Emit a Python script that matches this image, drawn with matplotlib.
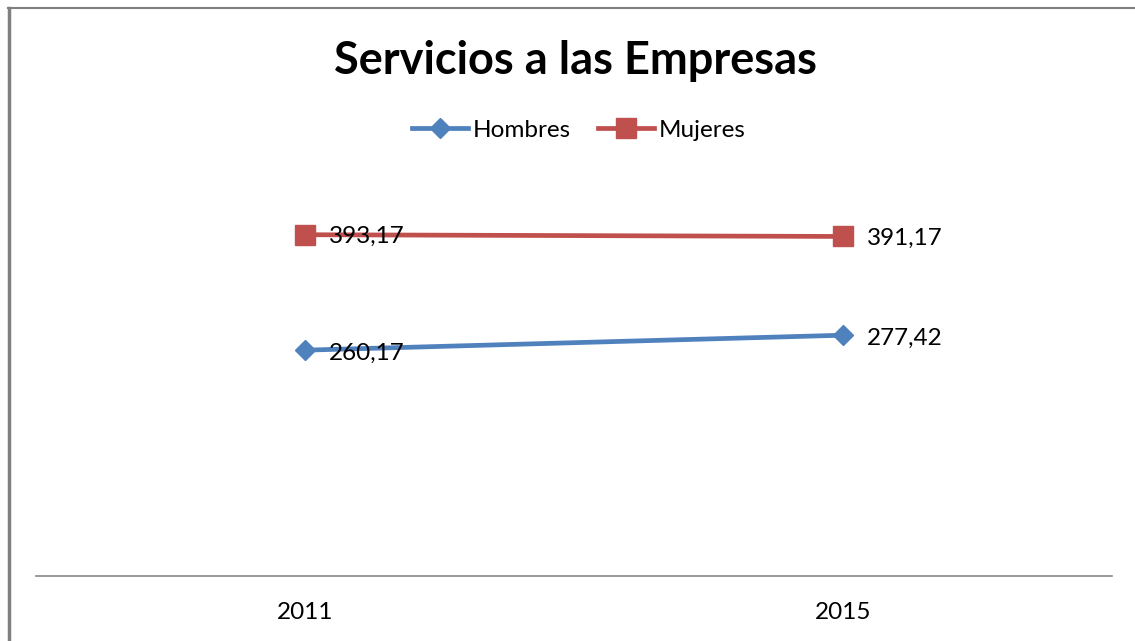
import matplotlib.pyplot as plt
from matplotlib.lines import Line2D

years = ['2011', '2015']
hombres = [260.17, 277.42]
mujeres = [393.17, 391.17]

blue = '#4F81BD'
red = '#C0504D'
font = 'Lato'

fig = plt.figure(figsize=(11.35, 6.41), dpi=100)
ax = fig.add_axes([36/1135, 1 - 576/641, (1112 - 36)/1135, (576 - 142)/641])

x = range(len(years))
ax.plot(x, hombres, color=blue, lw=3.4, marker='D', ms=10, label='Hombres')
ax.plot(x, mujeres, color=red, lw=3.4, marker='s', ms=14, label='Mujeres')

for xi, v in zip(x, hombres):
    ax.annotate(f'{v:.2f}'.replace('.', ','), (xi, v), xytext=(17, -2),
                textcoords='offset points', va='center', fontsize=17.5, family=font)
for xi, v in zip(x, mujeres):
    ax.annotate(f'{v:.2f}'.replace('.', ','), (xi, v), xytext=(17, -1),
                textcoords='offset points', va='center', fontsize=17.5, family=font)

ax.set_xlim(-0.5, 1.5)
ax.set_ylim(0, 500)
ax.set_xticks(list(x))
ax.set_xticklabels(years, fontsize=17.5, family=font)
ax.tick_params(axis='x', length=0, pad=19)
ax.set_yticks([])
for s in ['top', 'right', 'left']:
    ax.spines[s].set_visible(False)
ax.spines['bottom'].set_color('#868686')
ax.spines['bottom'].set_linewidth(1.2)

fig.text(0.507, 0.905, 'Servicios a las Empresas', ha='center', va='center',
         fontsize=32.5, fontweight='bold', family=font)
fig.legend(loc='center', bbox_to_anchor=(0.51, 0.797), ncol=2, frameon=False,
           prop={'family': font, 'size': 17.5}, handlelength=2.3, columnspacing=1.1,
           handletextpad=0.2)

# chart border (left and top edges)
fig.add_artist(Line2D([9/1135, 9/1135], [0, 1 - 8/641], color='#808080', lw=2.5))
fig.add_artist(Line2D([8/1135, 1], [1 - 8/641, 1 - 8/641], color='#808080', lw=1.5))

fig.savefig('out.png', dpi=100)
